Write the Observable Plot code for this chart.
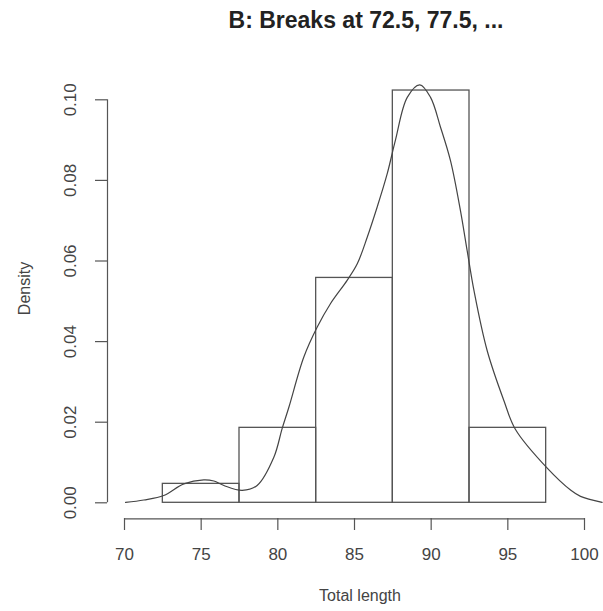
<!DOCTYPE html>
<html><head><meta charset="utf-8">
<script src="https://cdn.jsdelivr.net/npm/d3@7"></script>
<script src="https://cdn.jsdelivr.net/npm/@observablehq/plot@0.6"></script>
<style>body{margin:0;background:#fff;}</style>
</head><body><div id="chart"></div>
<script>
const title = "B: Breaks at 72.5, 77.5, ...";
const xLabel = "Total length";
const yLabel = "Density";
const binLo = [72.5, 77.5, 82.5, 87.5, 92.5];
const binHi = [77.5, 82.5, 87.5, 92.5, 97.5];
const densities = [0.0047, 0.0186, 0.0558, 0.1023, 0.0186];
const xTicks = [70, 75, 80, 85, 90, 95, 100];
const yTicks = [0, 0.02, 0.04, 0.06, 0.08, 0.10];
const curveX = [70.07, 71.26, 72.56, 73.87, 75.17, 75.83, 76.48, 77.68, 78.65, 79.74, 80.28, 80.72, 81.69, 82.57, 83.43, 84.52, 85.18, 85.83, 86.48, 87.13, 87.67, 88.44, 89.26, 89.96, 90.61, 91.26, 91.91, 92.35, 92.8, 93.65, 94.74, 95.5, 97.57, 99.11, 99.74, 101.15];
const curveY = [0.0001, 0.0007, 0.0018, 0.0047, 0.0057, 0.0054, 0.0043, 0.0031, 0.0043, 0.0113, 0.0184, 0.0237, 0.0361, 0.0436, 0.0494, 0.0552, 0.0593, 0.0659, 0.0734, 0.0816, 0.0900, 0.1006, 0.1037, 0.1006, 0.0932, 0.0849, 0.0725, 0.0625, 0.0525, 0.0378, 0.0254, 0.0182, 0.0086, 0.0031, 0.0016, 0.0001];

const bars = binLo.map((lo, i) => ({x1: lo, x2: binHi[i], y: densities[i]}));
const curve = curveX.map((x, i) => ({x, y: curveY[i]}));
const ink = "#555";

const chart = Plot.plot({
  width: 603,
  height: 611,
  marginLeft: 107,
  marginRight: 19,
  marginTop: 90,
  marginBottom: 93,
  style: {fontFamily: "'Liberation Sans', Arial, sans-serif", fontSize: "17px", color: "#444", background: "#fff", overflow: "visible"},
  x: {domain: [70, 100], range: [124, 584]},
  y: {domain: [0, 0.10], range: [502.3, 99.3]},
  marks: [
    Plot.rect(bars, {x1: "x1", x2: "x2", y1: 0, y2: "y", fill: "none", stroke: ink, strokeWidth: 1.3}),
    Plot.line(curve, {x: "x", y: "y", stroke: "#444", strokeWidth: 1.2, curve: "catmull-rom"}),
    Plot.ruleY([0], {x1: xTicks[0], x2: xTicks[xTicks.length - 1], dy: 16, stroke: ink, strokeWidth: 1.2}),
    Plot.ruleX([xTicks[0]], {y1: yTicks[0], y2: yTicks[yTicks.length - 1], dx: -17, stroke: ink, strokeWidth: 1.2}),
    Plot.axisX({ticks: xTicks, tickSize: 12, tickPadding: 17, label: null, stroke: ink, strokeWidth: 1.2, fill: "#444"}),
    Plot.axisY({ticks: yTicks, tickSize: 12, tickPadding: 20, tickRotate: -90, tickFormat: d3.format(".2f"), label: null, stroke: ink, strokeWidth: 1.2, fill: "#444"}),
    Plot.text([title], {frameAnchor: "top", textAnchor: "middle", lineAnchor: "middle", dx: 20, dy: -69.5, fontSize: 23, fontWeight: "bold", fill: "#222"}),
    Plot.text([xLabel], {frameAnchor: "bottom", textAnchor: "middle", lineAnchor: "middle", dx: 14, dy: 77, fontSize: 16, fill: "#444"}),
    Plot.text([yLabel], {frameAnchor: "left", textAnchor: "middle", lineAnchor: "middle", dx: -83, dy: -16, rotate: -90, fontSize: 16, fill: "#444"})
  ]
});
document.getElementById("chart").append(chart);
</script>
</body></html>
